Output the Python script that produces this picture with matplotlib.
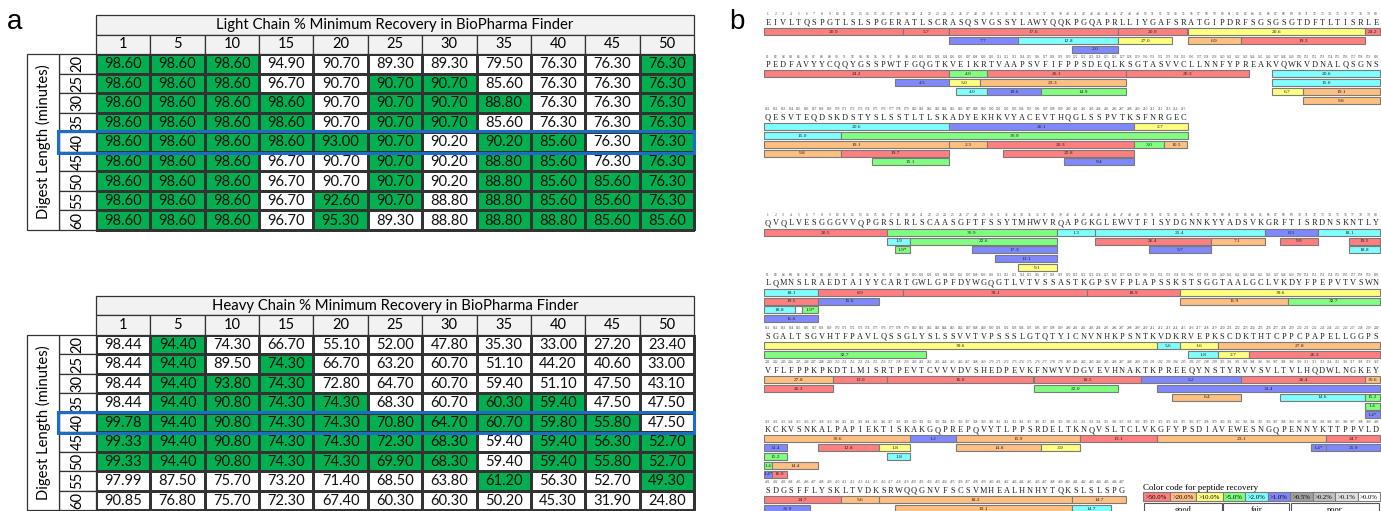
import numpy as np
import matplotlib
matplotlib.use("Agg")
import matplotlib.pyplot as plt
from matplotlib.colors import ListedColormap
from matplotlib.patches import Rectangle

# ── Panel a data ─────────────────────────────────────
min_recovery  = [1, 5, 10, 15, 20, 25, 30, 35, 40, 45, 50]
digest_len    = [20, 25, 30, 35, 40, 45, 50, 55, 60]
highlight_len = 40

light_title = "Light Chain % Minimum Recovery in BioPharma Finder"
light_vals = [
    [98.60, 98.60, 98.60, 94.90, 90.70, 89.30, 89.30, 79.50, 76.30, 76.30, 76.30],
    [98.60, 98.60, 98.60, 96.70, 90.70, 90.70, 90.70, 85.60, 76.30, 76.30, 76.30],
    [98.60, 98.60, 98.60, 98.60, 90.70, 90.70, 90.70, 88.80, 76.30, 76.30, 76.30],
    [98.60, 98.60, 98.60, 98.60, 90.70, 90.70, 90.70, 85.60, 76.30, 76.30, 76.30],
    [98.60, 98.60, 98.60, 98.60, 93.00, 90.70, 90.20, 90.20, 85.60, 76.30, 76.30],
    [98.60, 98.60, 98.60, 96.70, 90.70, 90.70, 90.20, 88.80, 85.60, 76.30, 76.30],
    [98.60, 98.60, 98.60, 96.70, 90.70, 90.70, 90.20, 88.80, 85.60, 85.60, 76.30],
    [98.60, 98.60, 98.60, 96.70, 92.60, 90.70, 88.80, 88.80, 85.60, 85.60, 76.30],
    [98.60, 98.60, 98.60, 96.70, 95.30, 89.30, 88.80, 88.80, 88.80, 85.60, 85.60],
]
light_green = [
    [1, 1, 1, 0, 0, 0, 0, 0, 0, 0, 1],
    [1, 1, 1, 0, 0, 1, 1, 0, 0, 0, 1],
    [1, 1, 1, 1, 0, 1, 1, 1, 0, 0, 1],
    [1, 1, 1, 1, 0, 1, 1, 0, 0, 0, 1],
    [1, 1, 1, 1, 1, 1, 0, 1, 1, 0, 1],
    [1, 1, 1, 0, 0, 1, 0, 1, 1, 0, 1],
    [1, 1, 1, 0, 0, 1, 0, 1, 1, 1, 1],
    [1, 1, 1, 0, 1, 1, 0, 1, 1, 1, 1],
    [1, 1, 1, 0, 1, 0, 0, 1, 1, 1, 1],
]

heavy_title = "Heavy Chain % Minimum Recovery in BioPharma Finder"
heavy_vals = [
    [98.44, 94.40, 74.30, 66.70, 55.10, 52.00, 47.80, 35.30, 33.00, 27.20, 23.40],
    [98.44, 94.40, 89.50, 74.30, 66.70, 63.20, 60.70, 51.10, 44.20, 40.60, 33.00],
    [98.44, 94.40, 93.80, 74.30, 72.80, 64.70, 60.70, 59.40, 51.10, 47.50, 43.10],
    [98.44, 94.40, 90.80, 74.30, 74.30, 68.30, 60.70, 60.30, 59.40, 47.50, 47.50],
    [99.78, 94.40, 90.80, 74.30, 74.30, 70.80, 64.70, 60.70, 59.80, 55.80, 47.50],
    [99.33, 94.40, 90.80, 74.30, 74.30, 72.30, 68.30, 59.40, 59.40, 56.30, 52.70],
    [99.33, 94.40, 90.80, 74.30, 74.30, 69.90, 68.30, 59.40, 59.40, 55.80, 52.70],
    [97.99, 87.50, 75.70, 73.20, 71.40, 68.50, 63.80, 61.20, 56.30, 52.70, 49.30],
    [90.85, 76.80, 75.70, 72.30, 67.40, 60.30, 60.30, 50.20, 45.30, 31.90, 24.80],
]
heavy_green = [
    [0, 1, 0, 0, 0, 0, 0, 0, 0, 0, 0],
    [0, 1, 0, 1, 0, 0, 0, 0, 0, 0, 0],
    [0, 1, 1, 1, 0, 0, 0, 0, 0, 0, 0],
    [0, 1, 1, 1, 1, 0, 0, 1, 1, 0, 0],
    [1, 1, 1, 1, 1, 1, 1, 1, 1, 1, 0],
    [1, 1, 1, 1, 1, 1, 1, 0, 1, 1, 1],
    [1, 1, 1, 1, 1, 1, 1, 0, 1, 1, 1],
    [0, 0, 0, 0, 0, 0, 0, 1, 0, 0, 1],
    [0, 0, 0, 0, 0, 0, 0, 0, 0, 0, 0],
]

# ── Panel b data ─────────────────────────────────────
light_seq = ("EIVLTQSPGTLSLSPGERATLSCRASQSVGSSYLAWYQQKPGQAPRLLIYGAFSRATGIPDRFSGSGSGTDFTLTISRLE"
             "PEDFAVYYCQQYGSSPWTFGQGTKVEIKRTVAAPSVFIFPPSDEQLKSGTASVVCLLNNFYPREAKVQWKVDNALQSGNS"
             "QESVTEQDSKDSTYSLSSTLTLSKADYEKHKVYACEVTHQGLSSPVTKSFNRGEC")
heavy_seq = ("QVQLVESGGGVVQPGRSLRLSCAASGFTFSSYTMHWVRQAPGKGLEWVTFISYDGNNKYYADSVKGRFTISRDNSKNTLY"
             "LQMNSLRAEDTAIYYCARTGWLGPFDYWGQGTLVTVSSASTKGPSVFPLAPSSKSTSGGTAALGCLVKDYFPEPVTVSWN"
             "SGALTSGVHTFPAVLQSSGLYSLSSVVTVPSSSLGTQTYICNVNHKPSNTKVDKRVEPKSCDKTHTCPPCPAPELLGGPS"
             "VFLFPPKPKDTLMISRTPEVTCVVVDVSHEDPEVKFNWYVDGVEVHNAKTKPREEQYNSTYRVVSVLTVLHQDWLNGKEY"
             "KCKVSNKALPAPIEKTISKAKGQPREPQVYTLPPSRDELTKNQVSLTCLVKGFYPSDIAVEWESNGQPENNYKTTPPVLD"
             "SDGSFFLYSKLTVDKSRWQQGNVFSCSVMHEALHNHYTQKSLSLSPG")

# peptides: (first residue, last residue, stack row, recovery class, retention time)
light_peps = [
    (1, 18, 1, 'r', '20.9'), (19, 24, 1, 'r', '5.7'), (25, 46, 1, 'r', '17.6'),
    (47, 55, 1, 'r', '20.9'), (56, 78, 1, 'y', '20.6'), (79, 104, 1, 'r', '24.2'),
    (25, 33, 2, 'b', '7.7'), (34, 46, 2, 'c', '12.8'), (47, 53, 2, 'y', '27.0'),
    (56, 62, 2, 'o', '6.9'), (63, 78, 2, 'r', '19.3'), (41, 46, 3, 'b', '2.0'),
    (105, 109, 1, 'g', '4.0'), (110, 127, 1, 'r', '26.1'), (128, 143, 1, 'r', '20.3'),
    (147, 184, 1, 'c', '20.6'), (98, 104, 2, 'b', '4.5'), (105, 108, 2, 'y', '5.0'),
    (109, 127, 2, 'o', '23.3'), (147, 170, 2, 'c', '15.0'), (106, 109, 3, 'c', '4.0'),
    (110, 116, 3, 'b', '19.6'), (117, 127, 3, 'g', '14.9'), (147, 150, 3, 'y', '6.7'),
    (151, 184, 3, 'o', '19.1'), (151, 170, 4, 'o', '9.8'),
    (185, 208, 1, 'b', '20.1'), (209, 215, 1, 'y', '2.7'), (171, 215, 2, 'g', '30.9'),
    (185, 189, 3, 'o', '2.3'), (190, 208, 3, 'r', '20.3'), (209, 212, 3, 'g', '3.0'),
    (213, 215, 3, 'o', '10.5'), (171, 184, 4, 'r', '19.7'), (192, 208, 4, 'r', '22.8'),
    (175, 184, 5, 'g', '15.1'), (200, 208, 5, 'b', '9.4'),
]
heavy_peps = [
    (1, 16, 1, 'r', '20.5'), (17, 38, 1, 'g', '30.9'), (39, 43, 1, 'c', '1.3'),
    (44, 65, 1, 'c', '25.4'), (66, 72, 1, 'b', '8.3'), (73, 87, 1, 'c', '18.1'),
    (17, 19, 2, 'c', '1.9'), (20, 38, 2, 'g', '22.6'), (44, 58, 2, 'r', '26.4'),
    (59, 65, 2, 'o', '7.1'), (68, 72, 2, 'r', '9.9'), (77, 87, 2, 'r', '19.5'),
    (18, 19, 3, 'g', '1.9*'), (28, 38, 3, 'b', '17.3'), (51, 58, 3, 'b', '5.7'),
    (77, 84, 3, 'c', '18.8'), (31, 38, 4, 'b', '13.1'), (34, 38, 5, 'y', '9.1'),
    (88, 98, 1, 'r', '8.9'), (99, 122, 1, 'r', '39.1'), (123, 134, 1, 'r', '18.9'),
    (135, 211, 1, 'y', '39.6'), (88, 95, 2, 'b', '15.6'), (135, 148, 2, 'o', '11.9'),
    (149, 181, 2, 'g', '32.7'), (85, 85, 3, 'w', ''), (86, 87, 3, 'g', '1.9*'),
    (81, 87, 4, 'b', '11.6'),
    (212, 214, 1, 'c', '5.6'), (215, 219, 1, 'y', '1.6'), (220, 249, 1, 'o', '27.8'),
    (216, 219, 2, 'c', '1.8'), (220, 223, 2, 'y', '2.7'), (224, 249, 2, 'r', '26.3'),
    (250, 256, 1, 'r', '13.0'), (257, 275, 1, 'r', '16.0'), (276, 289, 1, 'r', '18.5'),
    (290, 302, 1, 'b', '5.2'), (303, 318, 1, 'r', '26.4'), (319, 339, 1, 'o', '30.6'),
    (276, 286, 2, 'g', '22.0'), (292, 323, 2, 'b', '31.4'), (294, 302, 3, 'o', '6.4'),
    (308, 318, 3, 'c', '14.6'), (319, 323, 3, 'g', '15.2'), (319, 321, 4, 'g', '1.4'),
    (319, 321, 5, 'b', '1.4*'),
    (340, 345, 1, 'b', '1.2'), (346, 361, 1, 'o', '15.9'), (362, 371, 1, 'r', '13.1'),
    (372, 393, 1, 'o', '23.1'), (394, 410, 1, 'r', '24.7'), (328, 335, 2, 'r', '12.8'),
    (336, 339, 2, 'y', '1.8'), (346, 356, 2, 'o', '14.8'), (357, 361, 2, 'y', '3.9'),
    (392, 393, 2, 'b', '1.4*'), (394, 406, 2, 'b', '25.9'), (337, 339, 3, 'c', '1.8'),
    (322, 327, 4, 'o', '14.4'), (322, 323, 5, 'r', '16.0'),
    (411, 415, 1, 'o', '5.6'), (416, 440, 1, 'o', '18.2'), (441, 447, 1, 'o', '14.7'),
    (418, 440, 2, 'o', '19.1'), (441, 445, 2, 'c', '14.7'),
]

legend_labels  = [">50.0%", ">20.0%", ">10.0%", ">5.0%", ">2.0%", ">1.0%",
                  ">0.5%", ">0.2%", ">0.1%", ">0.0%"]
legend_classes = ['r', 'o', 'y', 'g', 'c', 'b', 'k1', 'k2', 'k3', 'w']
legend_groups  = [("good", 3), ("fair", 3), ("poor", 4)]

# ── Style ─────────────────────────────────────────────
W, H = 1381, 511
GREEN, HEAD, GRID, BLUE = "#00B050", "#F2F2F2", "#333333", "#1F6CC4"
REC_COL = {'r': "#FF7F7F", 'o': "#FFBF80", 'y': "#FFFF80", 'g': "#80FF80",
           'c': "#80FFFF", 'b': "#8088FF", 'k1': "#A0A0A0", 'k2': "#C0C0C0",
           'k3': "#E0E0E0", 'w': "#FFFFFF"}
TFONT = "Lato"
SFONT = "Liberation Serif"
PER_LINE = 80
PX_RES = 7.7          # pixels per residue
B_LEFT = 764          # left edge of residue 1 in panel b
light_line_y = [22.7, 65.0, 117.7]
heavy_line_y = [223.3, 283.3, 336.7, 370.7, 430.0, 490.7]
ROW0, ROW_STEP, BAR_H = 9.0, 8.8, 7.0

fig = plt.figure(figsize=(W / 100, H / 100), dpi=100)


def px_rect(x0, y0, x1, y1):
    return [x0 / W, 1 - y1 / H, (x1 - x0) / W, (y1 - y0) / H]


def draw_table(rect, title, vals, green):
    ax = fig.add_axes(rect)
    nr, nc = len(digest_len), len(min_recovery)
    ax.set_xlim(-1.27, nc)
    ax.set_ylim(nr, -2)
    ax.axis("off")
    mesh = ax.pcolormesh(np.arange(nc + 1), np.arange(nr + 1), np.array(green),
                         cmap=ListedColormap(["white", GREEN]), vmin=0, vmax=1,
                         edgecolors=GRID, linewidth=0.9)
    mesh.set_clip_on(False)
    ax.add_patch(Rectangle((0, -2), nc, 1, fc=HEAD, ec=GRID, lw=0.9, clip_on=False))
    ax.text(nc / 2, -1.5, title, ha="center", va="center", fontsize=10.7, family=TFONT)
    for j, c in enumerate(min_recovery):
        ax.add_patch(Rectangle((j, -1), 1, 1, fc=HEAD, ec=GRID, lw=0.9, clip_on=False))
        ax.text(j + 0.5, -0.5, str(c), ha="center", va="center", fontsize=10.5, family=TFONT)
    for i, d in enumerate(digest_len):
        ax.add_patch(Rectangle((-0.68, i), 0.68, 1, fc="white", ec=GRID, lw=0.9, clip_on=False))
        ax.text(-0.34, i + 0.5, str(d), ha="center", va="center", rotation=90,
                fontsize=10.5, family=TFONT)
        for j in range(nc):
            ax.text(j + 0.5, i + 0.52, f"{vals[i][j]:.2f}", ha="center", va="center",
                    fontsize=10.6, family=TFONT, color="#111111")
    ax.add_patch(Rectangle((-1.27, 0), 0.59, nr, fc="white", ec=GRID, lw=0.9, clip_on=False))
    ax.text(-0.975, nr / 2, "Digest Length (minutes)", ha="center", va="center",
            rotation=90, fontsize=10.6, family=TFONT)
    k = digest_len.index(highlight_len)
    ax.add_patch(Rectangle((-0.7, k - 0.05), nc + 0.7, 1.1, fill=False, ec=BLUE,
                           lw=2.2, zorder=5, clip_on=False))


draw_table(px_rect(27, 15, 694, 230), light_title, light_vals, light_green)
draw_table(px_rect(27, 296, 694, 510), heavy_title, heavy_vals, heavy_green)

# ── Panel b: peptide coverage maps ───────────────────
axb = fig.add_axes(px_rect(B_LEFT, 0, W, H))
axb.set_xlim(0.5, 0.5 + (W - B_LEFT) / PX_RES)
axb.set_ylim(H, 0)
axb.axis("off")


def draw_map(seq, peps, line_y):
    for k, y in enumerate(line_y):
        chunk = seq[k * PER_LINE:(k + 1) * PER_LINE]
        for i, aa in enumerate(chunk):
            axb.text(i + 1, y - 8.4, str(k * PER_LINE + i + 1), ha="center", va="center",
                     fontsize=2.6, family=SFONT, color="#444444")
            axb.text(i + 1, y, aa, ha="center", va="center", fontsize=6,
                     family=SFONT, color="#222222")
    for s, e, row, cls, lab in peps:
        for k in range((s - 1) // PER_LINE, (e - 1) // PER_LINE + 1):
            a = max(s, k * PER_LINE + 1) - k * PER_LINE
            b = min(e, (k + 1) * PER_LINE) - k * PER_LINE
            yc = line_y[k] + ROW0 + (row - 1) * ROW_STEP
            axb.barh(yc, b - a + 1, left=a - 0.5, height=BAR_H, color=REC_COL[cls],
                     edgecolor="#7A7A7A", linewidth=0.8)
            if lab:
                axb.text((a + b) / 2, yc + 0.2, lab, ha="center", va="center",
                         fontsize=3.9, family=SFONT, color="#222222")


draw_map(light_seq, light_peps, light_line_y)
draw_map(heavy_seq, heavy_peps, heavy_line_y)

# legend for recovery colours
x0 = (1143 - B_LEFT) / PX_RES + 0.5
axb.text(x0, 487.5, "Color code for peptide recovery", ha="left", va="center",
         fontsize=6.4, family=SFONT)
widths = [(4.0 * len(lab) + 2.5) / PX_RES for lab in legend_labels]
lefts = x0 + np.concatenate([[0], np.cumsum(widths)[:-1]])
axb.barh([497] * len(widths), widths, left=lefts, height=9, align="center",
         color=[REC_COL[c] for c in legend_classes], edgecolor="#7A7A7A", linewidth=0.8)
for l, w, lab in zip(lefts, widths, legend_labels):
    axb.text(l + w / 2, 497.3, lab, ha="center", va="center", fontsize=4.9, family=SFONT)
pos = 0
for name, n in legend_groups:
    gl, gw = lefts[pos], sum(widths[pos:pos + n])
    axb.add_patch(Rectangle((gl + 0.1, 503.5), gw - 0.2, 12, fc="white", ec="#555555",
                            lw=0.8, clip_on=True))
    axb.text(gl + gw / 2, 509.5, name, ha="center", va="center", fontsize=6, family=SFONT)
    pos += n

# ── Panel labels ─────────────────────────────────────
fig.text(15 / W, 1 - 22 / H, "a", ha="center", va="center", fontsize=20, family="Liberation Sans")
fig.text(737 / W, 1 - 22 / H, "b", ha="center", va="center", fontsize=20, family="Liberation Sans")

plt.savefig("out.png", dpi=100)
print("Saved: out.png")
